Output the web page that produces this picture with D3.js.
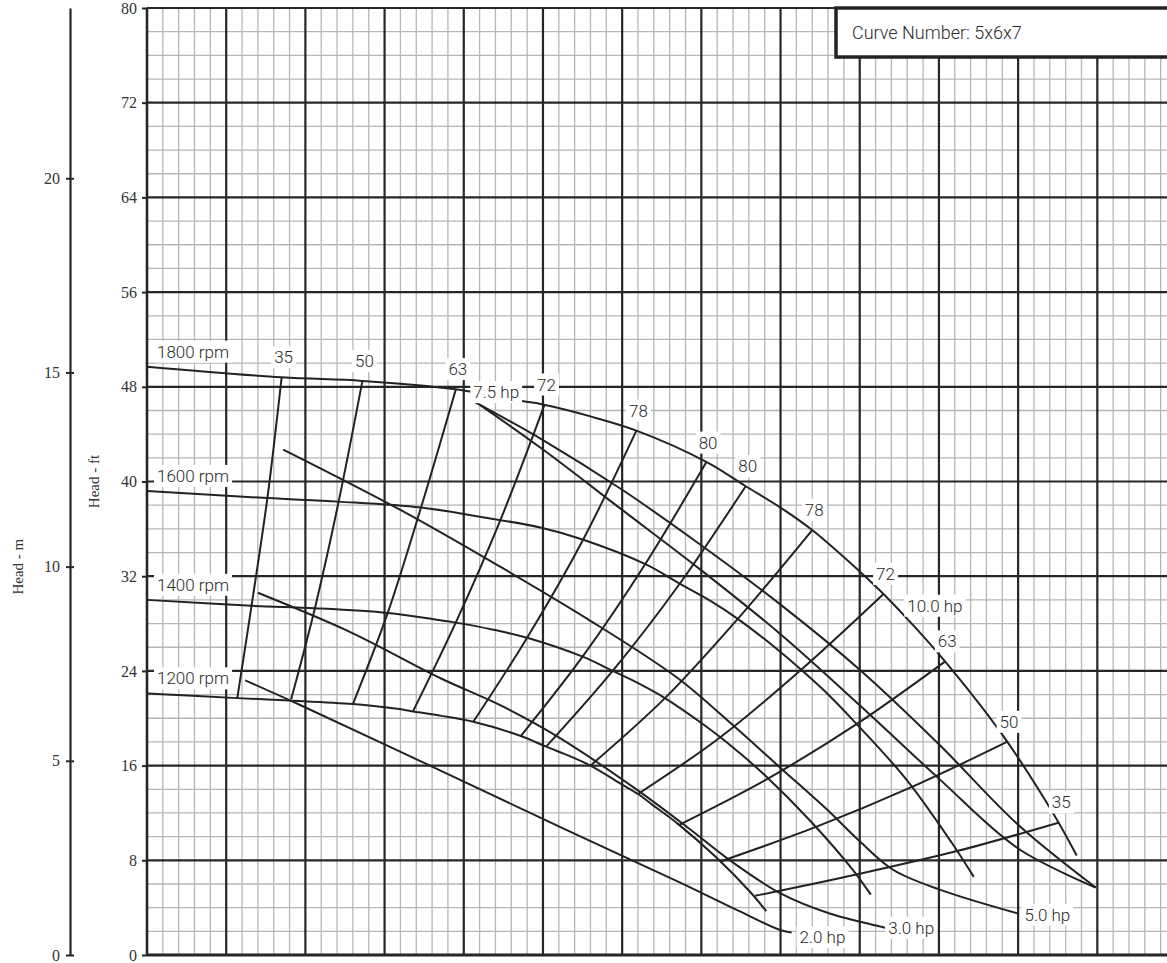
<!DOCTYPE html>
<html>
<head>
<meta charset="utf-8">
<script src="https://cdn.jsdelivr.net/npm/d3@7/dist/d3.min.js"></script>
<style>
body { margin: 0; background: #fff; }
.lbl { font-family: Roboto, 'Noto Sans', sans-serif; font-size: 17px; font-weight: 300; fill: #2a2a2a; }
.ax text { font-family: 'Liberation Serif', 'DejaVu Serif', serif; font-size: 16px; fill: #333; }
</style>
</head>
<body>
<div class="chart"></div>
<script>
// head ticks (ft and m)
var headFtTicks = [0, 8, 16, 24, 32, 40, 48, 56, 64, 72, 80];
var headMTicks = [0, 5, 10, 15, 20];

// speed curves [flow, head ft]
var speedNames = ['1800 rpm', '1600 rpm', '1400 rpm', '1200 rpm'];
var rpm1800 = [[0,49.7],[85,48.8],[136,48.5],[195,47.8],[204,47.6],[237,46.8],[250,46.5],[280,45.5],[309,44.3],[354,41.6],[378,39.6],[400,37.8],[420,35.9],[450,32.4],[465,30.5],[480,28.4],[502,25.1],[539,18.8],[572,12.0],[587,8.4]];
var rpm1600 = [[0,39.2],[76,38.6],[121,38.3],[173,37.8],[211,37.0],[249,36.1],[275,35.1],[315,33.0],[336,31.4],[356,29.9],[373,28.4],[400,25.6],[413,24.1],[427,22.4],[446,19.8],[479,14.9],[508,9.5],[522,6.6]];
var rpm1400 = [[0,30.0],[66,29.5],[106,29.3],[152,28.9],[184,28.3],[194,28.1],[218,27.5],[240,26.8],[275,25.2],[294,24.0],[311,22.9],[327,21.7],[350,19.6],[362,18.4],[373,17.2],[390,15.2],[419,11.3],[445,7.3],[457,5.1]];
var rpm1200 = [[0,22.1],[57,21.7],[90,21.5],[130,21.2],[158,20.8],[167,20.6],[186,20.2],[206,19.7],[236,18.5],[252,17.6],[267,16.8],[280,16.0],[300,14.4],[310,13.6],[320,12.6],[335,11.1],[359,8.3],[381,5.3],[391,3.7]];

// efficiency lines, top (1800) to bottom (1200)
var effNames = ['35', '50', '63', '72', '78', '80', '80', '78', '72', '63', '50', '35'];
var eff35a = [[85,48.8],[76,38.6],[66,29.5],[57,21.7]];
var eff50a = [[136,48.5],[121,38.3],[106,29.3],[91,21.6]];
var eff63a = [[195,47.8],[173,37.8],[152,28.9],[130,21.2]];
var eff72a = [[251,46.5],[223,36.7],[195,28.1],[168,20.6]];
var eff78a = [[309,44.3],[275,35.0],[240,26.8],[206,19.7]];
var eff80a = [[353,41.6],[314,32.9],[275,25.2],[236,18.5]];
var eff80b = [[378,39.6],[336,31.3],[294,24.0],[252,17.6]];
var eff78b = [[420,35.9],[373,28.4],[327,21.7],[280,16.0]];
var eff72b = [[465,30.5],[413,24.1],[362,18.4],[310,13.6]];
var eff63b = [[504,24.8],[448,19.5],[392,14.9],[336,11.0]];
var eff50b = [[543,18.0],[483,14.2],[422,10.8],[362,7.9]];
var eff35b = [[576,11.2],[512,8.8],[448,6.8],[384,5.0]];

// power lines
var powerNames = ['2.0 hp', '3.0 hp', '5.0 hp', '7.5 hp', '10.0 hp'];
var power2 = [[62,23.2],[97,21.1],[185,15.6],[261,10.8],[337,6.1],[374,3.7],[400,2.1],[407,1.9]];
var power3 = [[70,30.6],[128,27.3],[185,23.4],[223,21.1],[261,18.3],[311,13.8],[343,10.6],[368,8.0],[400,5.2],[431,3.5],[463,2.4],[466,2.3]];
var power5 = [[86,42.7],[160,37.6],[223,32.8],[278,28.4],[335,23.4],[370,19.4],[400,15.8],[430,12.2],[450,9.6],[471,7.2],[501,5.5],[550,3.5]];
var power75a = [[207,46.7],[250,43.5],[300,39.3],[349,34.7],[400,29.6],[450,24.1],[500,17.8],[550,11.0],[599,5.7]];
var power75b = [[210,46.5],[250,42.7],[300,37.6],[349,32.6],[400,27.1],[450,21.1],[500,14.9],[550,9.0],[599,5.7]];
var powerLabelAt = [[412,1.5],[468,2.3],[554,3.4],[206,47.55],[480,29.5]];

var margin = { top: 8, right: 0, bottom: 8, left: 147 };
var width = 1167 - margin.left - margin.right;
var height = 963 - margin.top - margin.bottom;

var svg = d3.select('.chart')
    .append('svg')
    .attr('width', 1167)
    .attr('height', 963)
    .append('g')
    .attr('transform', 'translate(' + margin.left + ', ' + margin.top + ')');

var x = d3.scaleLinear().domain([0, 644]).range([0, width]);
var y = d3.scaleLinear().domain([0, 80]).range([height, 0]);
var yM = d3.scaleLinear().domain([0, 80 / 3.2808]).range([height, 0]);

// grid
var minorX = d3.range(0, 645, 10).filter(d => d % 50 !== 0);
var majorX = d3.range(50, 645, 50);
var minorY = d3.range(0, 81, 2).filter(d => d % 8 !== 0);

var grid = svg.append('g');
grid.selectAll('.mx').data(minorX).enter().append('line')
    .attr('x1', d => x(d)).attr('x2', d => x(d)).attr('y1', 0).attr('y2', height)
    .attr('stroke', '#b6b6b6').attr('stroke-width', 1.3);
grid.selectAll('.my').data(minorY).enter().append('line')
    .attr('x1', 0).attr('x2', width).attr('y1', d => y(d)).attr('y2', d => y(d))
    .attr('stroke', '#b6b6b6').attr('stroke-width', 1.3);
grid.selectAll('.Mx').data(majorX).enter().append('line')
    .attr('x1', d => x(d)).attr('x2', d => x(d)).attr('y1', 0).attr('y2', height)
    .attr('stroke', '#262626').attr('stroke-width', 2.2);
grid.selectAll('.My').data(headFtTicks.slice(1)).enter().append('line')
    .attr('x1', 0).attr('x2', width).attr('y1', d => y(d)).attr('y2', d => y(d))
    .attr('stroke', '#262626').attr('stroke-width', 2.2);
grid.append('line').attr('x1', 0).attr('x2', 0).attr('y1', 0).attr('y2', height)
    .attr('stroke', '#262626').attr('stroke-width', 2.6);
grid.append('line').attr('x1', 0).attr('x2', width).attr('y1', height).attr('y2', height)
    .attr('stroke', '#262626').attr('stroke-width', 3);

// axes
var ftAxis = svg.append('g').attr('class', 'ax')
    .call(d3.axisLeft(y).tickValues(headFtTicks).tickSize(5).tickPadding(5).tickSizeOuter(0));
ftAxis.select('.domain').remove();
ftAxis.selectAll('.tick line').attr('stroke', '#262626').attr('stroke-width', 2);

var mAxis = svg.append('g').attr('class', 'ax')
    .attr('transform', 'translate(' + (70 - margin.left) + ',0)')
    .call(d3.axisLeft(yM).tickValues(headMTicks).tickSize(4).tickPadding(6).tickSizeOuter(0));
mAxis.select('.domain').attr('stroke', '#262626').attr('stroke-width', 2.2);
mAxis.selectAll('.tick line').attr('x1', 4).attr('x2', -4).attr('stroke', '#262626').attr('stroke-width', 2);

svg.append('text')
    .attr('transform', 'translate(' + (23 - margin.left) + ',' + yM(10) + ') rotate(-90)')
    .attr('text-anchor', 'middle')
    .style('font-family', "'Liberation Serif', serif").style('font-size', '15px').style('fill', '#333')
    .text('Head - m');
svg.append('text')
    .attr('transform', 'translate(' + (99 - margin.left) + ',' + y(40) + ') rotate(-90)')
    .attr('text-anchor', 'middle')
    .style('font-family', "'Liberation Serif', serif").style('font-size', '15px').style('fill', '#333')
    .text('Head - ft');

// curves
var line = d3.line().x(d => x(d[0])).y(d => y(d[1])).curve(d3.curveCatmullRom.alpha(0.5));
var speedCurves = [rpm1800, rpm1600, rpm1400, rpm1200];
var effCurves = [eff35a, eff50a, eff63a, eff72a, eff78a, eff80a, eff80b, eff78b, eff72b, eff63b, eff50b, eff35b];
var powerCurves = [power2, power3, power5, power75a, power75b];

svg.append('g').selectAll('path')
    .data(speedCurves.concat(effCurves, powerCurves))
    .enter().append('path')
    .attr('d', line)
    .attr('fill', 'none')
    .attr('stroke', '#222')
    .attr('stroke-width', 2);

// labels with white boxes
var labels = svg.append('g');
function addLabel(px, py, txt, anchor) {
    var t = labels.append('text').attr('class', 'lbl')
        .attr('x', px).attr('y', py).attr('dy', '0.35em')
        .attr('text-anchor', anchor).text(txt);
    var b = t.node().getBBox();
    labels.insert('rect', () => t.node())
        .attr('x', b.x - 3).attr('y', b.y - 1)
        .attr('width', b.width + 6).attr('height', b.height + 2)
        .attr('fill', '#fff');
}

speedCurves.forEach((c, i) => addLabel(x(c[0][0]) + 10, y(c[0][1]) - 15, speedNames[i], 'start'));
effCurves.forEach((c, i) => addLabel(x(c[0][0]) + 2, y(c[0][1]) - 20, effNames[i], 'middle'));
powerLabelAt.forEach((p, i) => addLabel(x(p[0]), y(p[1]), powerNames[i], 'start'));

// curve number box
var box = svg.append('g').attr('transform', 'translate(' + (836 - margin.left) + ',0)');
box.append('rect').attr('x', 0).attr('y', 0).attr('width', 400).attr('height', 49)
    .attr('fill', '#fff').attr('stroke', '#222').attr('stroke-width', 3.5);
box.append('text').attr('class', 'lbl').attr('x', 16).attr('y', 25).attr('dy', '0.35em')
    .style('font-size', '18px')
    .text('Curve Number: 5x6x7');
</script>
</body>
</html>
